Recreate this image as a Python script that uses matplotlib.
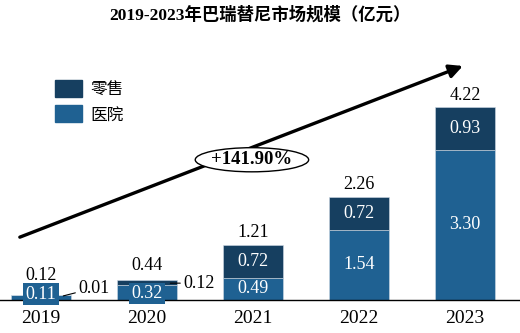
import numpy as np
import matplotlib.pyplot as plt
from matplotlib.patches import Ellipse, Patch

years = ['2019', '2020', '2021', '2022', '2023']
hospital = [0.11, 0.32, 0.49, 1.54, 3.30]
retail = [0.01, 0.12, 0.72, 0.72, 0.93]
totals = [0.12, 0.44, 1.21, 2.26, 4.22]
growth = '+141.90%'

dark = '#163f60'
blue = '#1f6192'
serif = ['Liberation Serif', 'Noto Sans CJK SC']
fs = 13

fig = plt.figure(figsize=(5.2, 3.33), dpi=100)
ax = fig.add_axes([0, 33 / 333, 1, 260 / 333])
x = np.arange(len(years))

ax.bar(x, hospital, width=0.56, color=blue, edgecolor='#cfdbe6', linewidth=0.4, zorder=2)
ax.bar(x, retail, width=0.56, bottom=hospital, color=dark, edgecolor='#cfdbe6', linewidth=0.4, zorder=2)

ax.set_xlim(-0.387, 4.519)
ax.set_ylim(0, 5.71)
for s in ['top', 'left', 'right']:
    ax.spines[s].set_visible(False)
ax.spines['bottom'].set_linewidth(1)
ax.set_yticks([])
ax.set_xticks(x)
ax.set_xticklabels(years, fontsize=14, family=serif)
ax.tick_params(axis='x', length=0, pad=7)

# 小さい値 (2019, 2020)
for i, yl in [(0, 0.13), (1, 0.15)]:
    ax.text(x[i], yl, f'{hospital[i]:.2f}', ha='center', va='center', color='white',
            fontsize=fs, family=serif, zorder=4,
            bbox=dict(boxstyle='square,pad=0.12', fc=blue, ec='none'))
ax.text(x[0], 0.53, f'{totals[0]:.2f}', ha='center', va='center', fontsize=fs, family=serif)
ax.text(x[1], 0.75, f'{totals[1]:.2f}', ha='center', va='center', fontsize=fs, family=serif)
ax.annotate(f'{retail[0]:.2f}', xy=(0.21, 0.09), xytext=(0.35, 0.26), ha='left', va='center',
            fontsize=fs, family=serif, arrowprops=dict(arrowstyle='-', color='black', lw=0.8,
                                                       shrinkA=0, shrinkB=0))
ax.annotate(f'{retail[1]:.2f}', xy=(1.22, 0.37), xytext=(1.34, 0.37), ha='left', va='center',
            fontsize=fs, family=serif, arrowprops=dict(arrowstyle='-', color='black', lw=0.8,
                                                       shrinkA=0, shrinkB=0))

# 大きい値 (2021-2023)
for i in range(2, 5):
    ax.text(x[i], hospital[i] / 2, f'{hospital[i]:.2f}', ha='center', va='center',
            color='white', fontsize=fs, family=serif, zorder=4)
    ax.text(x[i], hospital[i] + retail[i] / 2, f'{retail[i]:.2f}', ha='center', va='center',
            color='white', fontsize=fs, family=serif, zorder=4)
    ax.text(x[i], totals[i] + 0.28, f'{totals[i]:.2f}', ha='center', va='center',
            fontsize=fs, family=serif)

# 成長矢印
ax.annotate('', xy=(3.98, 5.14), xytext=(-0.2, 1.38),
            arrowprops=dict(arrowstyle='-|>,head_length=0.8,head_width=0.4', color='black',
                            lw=2.4, shrinkA=0, shrinkB=0), zorder=3)
ax.add_patch(Ellipse((1.99, 3.08), 1.07, 0.53, fc='white', ec='black', lw=1, zorder=5))
ax.text(1.99, 3.08, growth, ha='center', va='center', fontsize=13.5, fontweight='bold',
        family=serif, zorder=6)

handles = [Patch(color=dark, label='零售'), Patch(color=blue, label='医院')]
fig.legend(handles=handles, loc='upper left', bbox_to_anchor=(55 / 520, 1 - 80 / 333),
           frameon=False, prop={'family': serif, 'size': 12}, borderpad=0, borderaxespad=0,
           handlelength=1.6, handleheight=1.2, handletextpad=0.5, labelspacing=0.42)

fig.suptitle('2019-2023年巴瑞替尼市场规模（亿元）', y=1 - 15 / 333, va='center',
             fontsize=12.5, fontweight='bold', family=serif)

fig.savefig('out.png', dpi=100)
